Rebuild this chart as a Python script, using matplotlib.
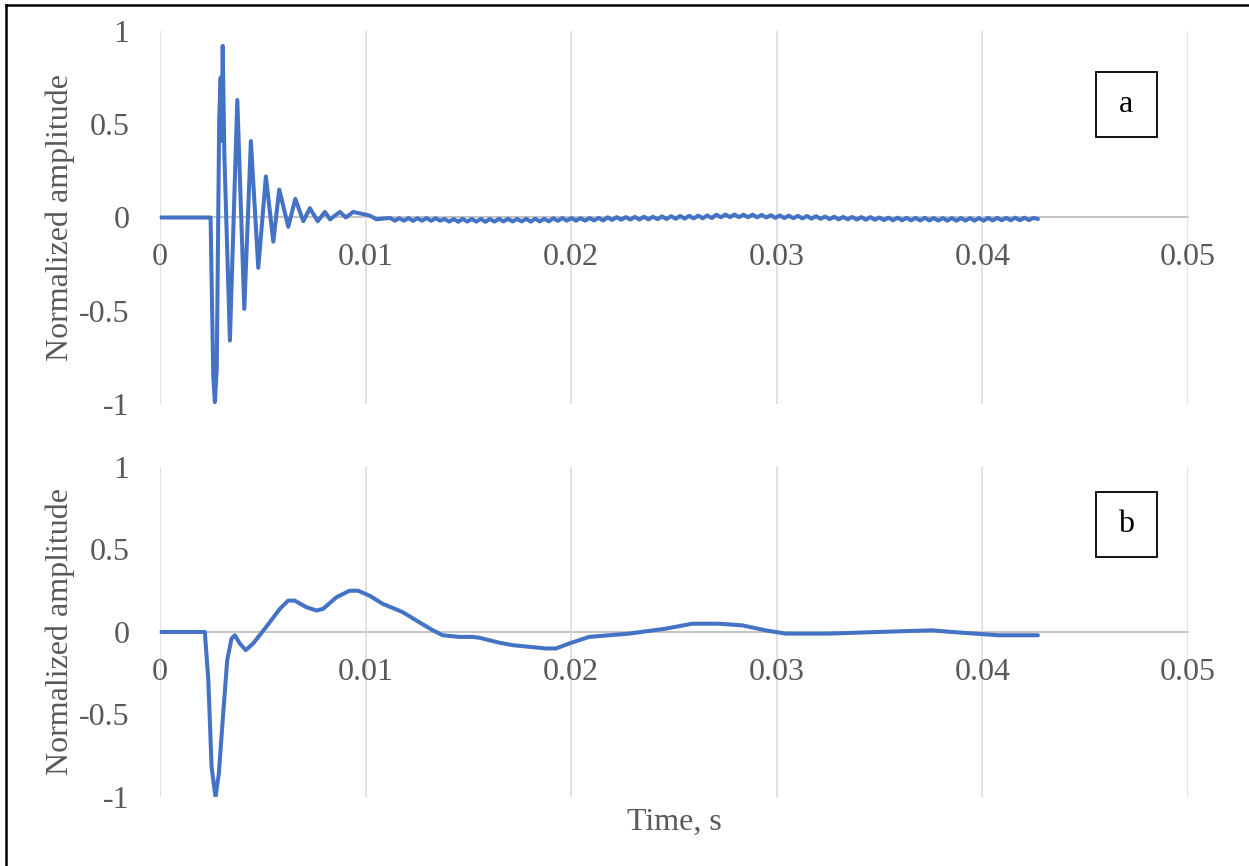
import numpy as np
import matplotlib
matplotlib.use('Agg')
import matplotlib.pyplot as plt
from matplotlib.patches import Rectangle
from matplotlib.lines import Line2D

plt.rcParams['font.family'] = ['Liberation Serif', 'DejaVu Serif']

# panel a: onset and decaying oscillation
ta_head = [0, 0.00246, 0.00259, 0.00267, 0.00276, 0.00288, 0.00295, 0.00300,
           0.00305, 0.00313, 0.00340, 0.00376, 0.00410, 0.00442, 0.00478,
           0.00515, 0.00551, 0.00580, 0.00624, 0.00658, 0.00697, 0.00729,
           0.00767, 0.00802, 0.00827, 0.00875, 0.00904, 0.00940, 0.00980,
           0.01021, 0.01053, 0.01090]
ya_head = [0, 0, -0.85, -0.99, -0.81, 0.53, 0.75, 0.41,
           0.92, 0.34, -0.66, 0.63, -0.49, 0.41, -0.27,
           0.22, -0.13, 0.15, -0.05, 0.10, -0.02, 0.05,
           -0.02, 0.03, -0.01, 0.03, 0.0, 0.03, 0.02,
           0.01, -0.01, -0.005]

# panel a: small ripple on the tail, 0.0112 .. 0.0427 s
ya_tail = [
    -0.003, -0.017, -0.004, -0.017, -0.003, -0.018, -0.004, -0.017, -0.003, -0.018, -0.004, -0.017,
    -0.008, -0.022, -0.008, -0.023, -0.007, -0.022, -0.008, -0.022, -0.008, -0.023, -0.008, -0.022,
    -0.007, -0.021, -0.007, -0.021, -0.008, -0.021, -0.007, -0.022, -0.007, -0.021, -0.007, -0.021,
    -0.004, -0.018, -0.003, -0.017, -0.003, -0.017, -0.004, -0.017, -0.003, -0.016, -0.002, -0.016,
    0.001, -0.013, 0.002, -0.012, 0.002, -0.011, 0.003, -0.011, 0.004, -0.010, 0.004, -0.009,
    0.006, -0.008, 0.007, -0.007, 0.008, -0.006, 0.009, -0.005, 0.010, -0.004, 0.011, -0.003,
    0.015, 0.001, 0.016, 0.002, 0.016, 0.002, 0.015, 0.001, 0.015, 0.001, 0.014, 0.000,
    0.012, -0.002, 0.011, -0.003, 0.010, -0.004, 0.009, -0.005, 0.008, -0.006, 0.007, -0.007,
    0.005, -0.009, 0.004, -0.010, 0.003, -0.010, 0.003, -0.011, 0.002, -0.012, 0.002, -0.012,
    0.000, -0.014, -0.001, -0.015, -0.001, -0.015, -0.002, -0.016, -0.002, -0.016, -0.002, -0.016,
    -0.003, -0.017, -0.003, -0.017, -0.003, -0.017, -0.003, -0.017, -0.003, -0.017, -0.003, -0.017,
    -0.002, -0.016, -0.002, -0.015, -0.002, -0.015, -0.001, -0.015, -0.001, -0.014, -0.002, -0.008,
]
ta_tail = np.linspace(0.0112, 0.0427, len(ya_tail))

# panel b
tb = [0, 0.00218, 0.00235, 0.00251, 0.00270, 0.00286, 0.00307, 0.00327,
      0.00348, 0.00364, 0.00388, 0.00417, 0.00453, 0.00510, 0.00583,
      0.00623, 0.00655, 0.00712, 0.00761, 0.00793, 0.00858, 0.00922,
      0.00963, 0.01019, 0.01084, 0.01181, 0.01246, 0.01327, 0.01375,
      0.01456, 0.01521, 0.01553, 0.01650, 0.01715, 0.01877, 0.01926,
      0.01990, 0.02087, 0.02282, 0.02460, 0.02589, 0.02718, 0.02832,
      0.02945, 0.03042, 0.03252, 0.03495, 0.03754, 0.03851, 0.04078,
      0.04270]
yb = [0, 0, -0.29, -0.82, -1.0, -0.86, -0.50, -0.17,
      -0.04, -0.02, -0.07, -0.11, -0.07, 0.02, 0.14,
      0.19, 0.19, 0.15, 0.13, 0.14, 0.21, 0.25,
      0.25, 0.22, 0.17, 0.12, 0.07, 0.01, -0.02,
      -0.03, -0.03, -0.035, -0.065, -0.08, -0.10, -0.10,
      -0.07, -0.03, -0.01, 0.02, 0.05, 0.05, 0.04,
      0.01, -0.01, -0.01, 0.0, 0.01, 0.0, -0.02,
      -0.02]

xticks = [0, 0.01, 0.02, 0.03, 0.04, 0.05]
xticklabels = ['0', '0.01', '0.02', '0.03', '0.04', '0.05']
yticks = [1, 0.5, 0, -0.5, -1]
yticklabels = ['1', '0.5', '0', '-0.5', '-1']

blue = '#4472C4'
grey_txt = '#595959'
fs = 23

fig = plt.figure(figsize=(12.49, 8.66), dpi=100)
ax_a = fig.add_axes([0.1281, 0.5335, 0.8231, 0.4307])
ax_b = fig.add_axes([0.1281, 0.0797, 0.8231, 0.3811])

ta = list(ta_head) + list(ta_tail)
ya = list(ya_head) + list(ya_tail)

for ax, t, y, tag, box_y, ycen in [(ax_a, ta, ya, 'a', 0.7166, 0.5335 + 0.4307 / 2),
                                   (ax_b, tb, yb, 'b', 0.728, 0.0797 + 0.3811 / 2)]:
    ax.plot(t, y, color=blue, lw=2.9, solid_joinstyle='round', solid_capstyle='round', zorder=3)
    ax.set_xlim(0, 0.05)
    ax.set_ylim(-1, 1)
    ax.set_xticks(xticks)
    ax.set_xticklabels(xticklabels)
    ax.set_yticks(yticks)
    ax.set_yticklabels(yticklabels)
    ax.grid(axis='x', color='#D9D9D9', lw=1.1, zorder=0)
    for s in ['top', 'right', 'left']:
        ax.spines[s].set_visible(False)
    ax.spines['bottom'].set_position(('data', 0))
    ax.spines['bottom'].set_color('#BFBFBF')
    ax.spines['bottom'].set_linewidth(1.3)
    ax.spines['bottom'].set_zorder(1)
    ax.tick_params(axis='x', length=0, pad=18.5, labelsize=fs, labelcolor=grey_txt)
    ax.tick_params(axis='y', length=0, pad=22, labelsize=fs, labelcolor=grey_txt)
    # label box
    ax.add_patch(Rectangle((0.9105, box_y), 0.059, 65 / (ax.bbox.height), transform=ax.transAxes,
                           fill=False, ec='black', lw=1.3, zorder=4))
    ax.text(0.94, box_y + 32 / ax.bbox.height, tag, transform=ax.transAxes,
            ha='center', va='center', fontsize=fs, color='black', zorder=5)
    fig.text(60 / 1249, ycen, 'Normalized amplitude', rotation=90, ha='center', va='center',
             fontsize=fs, color=grey_txt)

fig.text(674 / 1249, 1 - 822 / 866, 'Time, s', ha='center', va='center', fontsize=fs, color=grey_txt)

# frame edges visible on the left and top
fig.add_artist(Line2D([6 / 1249, 6 / 1249], [0, 1 - 5 / 866], color='black', lw=1.8))
fig.add_artist(Line2D([6 / 1249, 1], [1 - 5 / 866, 1 - 5 / 866], color='black', lw=1.8))

fig.savefig('out.png', dpi=100)
